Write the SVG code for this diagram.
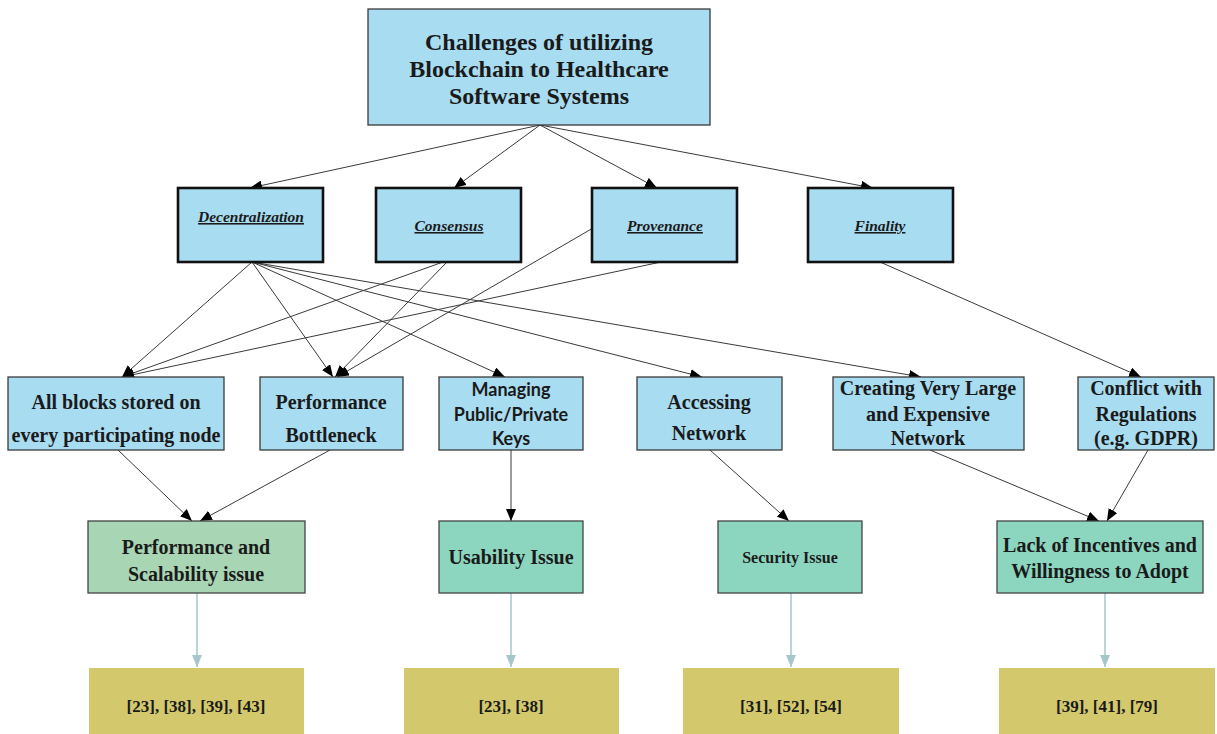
<svg xmlns="http://www.w3.org/2000/svg" width="1217" height="734" viewBox="0 0 1217 734">
<style>
.bg{fill:#ffffff}
.blue{fill:#a8dcf1;stroke:#3a3a3a;stroke-width:1.3}
.blue2{fill:#a8dcf1;stroke:#111;stroke-width:2.6}
.green{fill:#a8d5b4;stroke:#444;stroke-width:1.3}
.teal{fill:#8cd6c0;stroke:#444;stroke-width:1.3}
.olive{fill:#d3c96c;stroke:none}
.t{font-family:"Liberation Serif","Times New Roman",serif;font-weight:bold;fill:#1a1a1a;text-anchor:middle}
.title{font-size:24px}
.l2{font-size:15.5px;font-style:italic;text-decoration:underline}
.l3{font-size:20px}
.sans{font-family:Lato,"Liberation Sans",sans-serif;font-weight:bold;font-size:18px;fill:#1a1a1a;text-anchor:middle}
.ref{font-size:17px}
.c{stroke:#3a3a3a;stroke-width:1;fill:none;marker-end:url(#ah)}
.g{stroke:#a6c6cc;stroke-width:1.5;fill:none;marker-end:url(#ag)}
</style>
<defs>
<marker id="ah" markerUnits="userSpaceOnUse" markerWidth="12" markerHeight="10" refX="12" refY="5" orient="auto">
<path d="M0,0 L12,5 L0,10 Z" fill="#000"/>
</marker>
<marker id="ag" markerUnits="userSpaceOnUse" markerWidth="12" markerHeight="10" refX="12" refY="5" orient="auto">
<path d="M0,0 L12,5 L0,10 Z" fill="#a6c6cc"/>
</marker>
</defs>
<rect class="bg" x="0" y="0" width="1217" height="734"/>

<g id="connectors">
<line class="c" x1="540" y1="125" x2="250" y2="188"/>
<line class="c" x1="540" y1="125" x2="454" y2="188"/>
<line class="c" x1="540" y1="125" x2="657" y2="188"/>
<line class="c" x1="540" y1="125" x2="873" y2="188"/>
<line class="c" x1="252" y1="262" x2="122" y2="377"/>
<line class="c" x1="252" y1="262" x2="333" y2="377"/>
<line class="c" x1="252" y1="262" x2="505" y2="377"/>
<line class="c" x1="252" y1="262" x2="702" y2="377"/>
<line class="c" x1="252" y1="262" x2="921" y2="377"/>
<line class="c" x1="443" y1="262" x2="122" y2="377"/>
<line class="c" x1="447" y1="262" x2="335" y2="377"/>
<line class="c" x1="661" y1="262" x2="122" y2="377"/>
<line class="c" x1="593" y1="228" x2="337" y2="377"/>
<line class="c" x1="880" y1="262" x2="1141" y2="377"/>
<line class="c" x1="118" y1="450" x2="192" y2="521"/>
<line class="c" x1="330" y1="450" x2="200" y2="521"/>
<line class="c" x1="511" y1="450" x2="511" y2="521"/>
<line class="c" x1="710" y1="450" x2="789" y2="521"/>
<line class="c" x1="930" y1="450" x2="1099" y2="521"/>
<line class="c" x1="1148" y1="450" x2="1107" y2="521"/>
<line class="g" x1="197" y1="593" x2="197" y2="667"/>
<line class="g" x1="511" y1="593" x2="511" y2="667"/>
<line class="g" x1="791" y1="593" x2="791" y2="667"/>
<line class="g" x1="1105" y1="593" x2="1105" y2="667"/>
</g>

<g id="root">
<rect class="blue" x="368" y="9" width="342" height="116"/>
<text class="t title" x="539" y="50">Challenges of utilizing</text>
<text class="t title" x="539" y="77">Blockchain to Healthcare</text>
<text class="t title" x="539" y="104">Software Systems</text>
</g>

<g id="decentralization">
<rect class="blue2" x="178" y="188" width="145" height="74"/>
<text class="t l2" x="251" y="222">Decentralization</text>
</g>
<g id="consensus">
<rect class="blue2" x="376" y="188" width="145" height="74"/>
<text class="t l2" x="449" y="231">Consensus</text>
</g>
<g id="provenance">
<rect class="blue2" x="592" y="188" width="145" height="74"/>
<text class="t l2" x="665" y="231">Provenance</text>
</g>
<g id="finality">
<rect class="blue2" x="808" y="188" width="145" height="74"/>
<text class="t l2" x="880" y="231">Finality</text>
</g>

<g id="all-blocks">
<rect class="blue" x="8" y="377" width="216" height="73"/>
<text class="t l3" x="116" y="409">All blocks stored on</text>
<text class="t l3" x="116" y="442">every participating node</text>
</g>
<g id="performance-bottleneck">
<rect class="blue" x="260" y="377" width="143" height="73"/>
<text class="t l3" x="331" y="409">Performance</text>
<text class="t l3" x="331" y="442">Bottleneck</text>
</g>
<g id="managing-keys">
<rect class="blue" x="439" y="377" width="144" height="73"/>
<text class="sans" x="511" y="396">Managing</text>
<text class="sans" x="511" y="421">Public/Private</text>
<text class="sans" x="511" y="445">Keys</text>
</g>
<g id="accessing-network">
<rect class="blue" x="637" y="377" width="145" height="73"/>
<text class="t l3" x="709" y="409">Accessing</text>
<text class="t l3" x="709" y="440">Network</text>
</g>
<g id="creating-network">
<rect class="blue" x="833" y="377" width="191" height="73"/>
<text class="t l3" x="928" y="395">Creating Very Large</text>
<text class="t l3" x="928" y="421">and Expensive</text>
<text class="t l3" x="928" y="445">Network</text>
</g>
<g id="conflict-regulations">
<rect class="blue" x="1078" y="377" width="136" height="73"/>
<text class="t l3" x="1146" y="395">Conflict with</text>
<text class="t l3" x="1146" y="421">Regulations</text>
<text class="t l3" x="1146" y="445">(e.g. GDPR)</text>
</g>

<g id="performance-scalability">
<rect class="green" x="88" y="521" width="217" height="72"/>
<text class="t l3" x="196" y="554">Performance and</text>
<text class="t l3" x="196" y="581">Scalability issue</text>
</g>
<g id="usability">
<rect class="teal" x="439" y="521" width="144" height="72"/>
<text class="t l3" x="511" y="564">Usability Issue</text>
</g>
<g id="security">
<rect class="teal" x="718" y="521" width="144" height="72"/>
<text class="t" style="font-size:16px" x="790" y="563">Security Issue</text>
</g>
<g id="lack-incentives">
<rect class="teal" x="997" y="521" width="206" height="72"/>
<text class="t l3" x="1100" y="552">Lack of Incentives and</text>
<text class="t l3" x="1100" y="578">Willingness to Adopt</text>
</g>

<g id="refs-1">
<rect class="olive" x="89" y="668" width="215" height="70"/>
<text class="t ref" x="196" y="712">[23], [38], [39], [43]</text>
</g>
<g id="refs-2">
<rect class="olive" x="404" y="668" width="215" height="70"/>
<text class="t ref" x="511" y="712">[23], [38]</text>
</g>
<g id="refs-3">
<rect class="olive" x="683" y="668" width="216" height="70"/>
<text class="t ref" x="791" y="712">[31], [52], [54]</text>
</g>
<g id="refs-4">
<rect class="olive" x="999" y="668" width="216" height="70"/>
<text class="t ref" x="1107" y="712">[39], [41], [79]</text>
</g>
</svg>
